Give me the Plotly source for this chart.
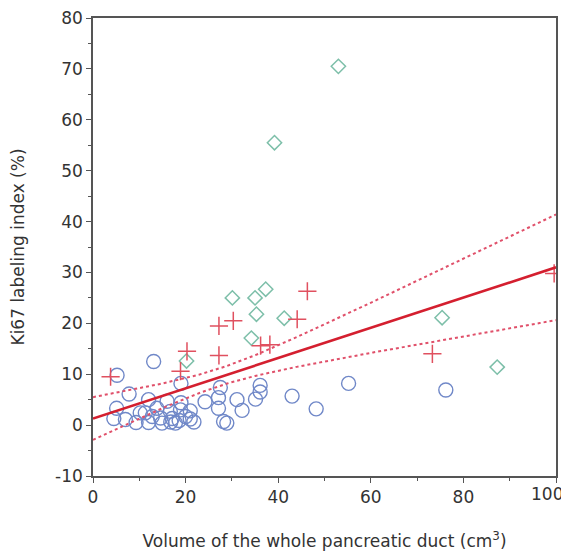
import numpy as np
import plotly.graph_objects as go

# Circles (blue)
circle_x = [5.2, 13.1, 19.0, 7.8, 5.1, 4.5, 7.0, 9.3, 10.2, 11.3, 12.0, 12.8, 12.0, 13.8, 14.6,
            14.9, 16.0, 16.7, 17.1, 16.8, 17.8, 18.6, 18.9, 19.0, 20.0, 21.0, 21.0, 21.8, 24.2,
            27.5, 27.1, 27.1, 28.2, 28.9, 31.1, 32.2, 35.1, 36.1, 36.1, 43.0, 48.2, 55.2, 76.2]
circle_y = [9.8, 12.5, 8.2, 6.1, 3.3, 1.3, 1.1, 0.5, 2.4, 2.4, 5.0, 1.7, 0.5, 3.3, 1.4,
            0.4, 4.7, 2.7, 1.3, 0.6, 0.4, 0.9, 3.0, 4.4, 1.7, 2.8, 1.2, 0.6, 4.6,
            7.4, 5.4, 3.3, 0.7, 0.4, 5.0, 2.9, 5.1, 6.5, 7.8, 5.7, 3.2, 8.2, 6.9]

# Crosses (red)
cross_x = [3.8, 18.9, 20.3, 27.2, 27.2, 30.3, 36.2, 38.2, 44.1, 46.3, 73.3, 99.6]
cross_y = [9.5, 10.6, 14.5, 13.7, 19.5, 20.5, 15.6, 15.8, 20.8, 26.3, 14.0, 29.8]

# Diamonds (teal)
diamond_x = [53.0, 39.2, 37.3, 30.1, 35.0, 35.3, 41.3, 34.2, 20.2, 75.4, 87.3]
diamond_y = [70.5, 55.5, 26.7, 25.0, 25.0, 21.8, 21.0, 17.1, 12.6, 21.1, 11.4]

# Tick labels (last x label drawn as annotation so it stays inside the page)
x_ticks = [0, 20, 40, 60, 80, 100]
x_ticktext = ["0", "20", "40", "60", "80", ""]
x_last_label = "100"
y_ticks = [-10, 0, 10, 20, 30, 40, 50, 60, 70, 80]
y_ticktext = ["-10", "0", "10", "20", "30", "40", "50", "60", "70", "80"]

# Regression line and confidence band parameters
fit_intercept = 1.3
fit_slope = 0.297
ci_base = 2.95
ci_curv = 0.0198
ci_center = 27.2

xs = np.linspace(0, 100, 201)
fit = fit_intercept + fit_slope * xs
hw = np.sqrt(ci_base + ci_curv * (xs - ci_center) ** 2)

TXT = "#333333"
FONT = "DejaVu Sans"

fig = go.Figure()
fig.add_trace(go.Scatter(x=circle_x, y=circle_y, mode="markers",
                         marker=dict(symbol="circle-open", size=14, color="#7088c8",
                                     line=dict(width=1.4, color="#7088c8"))))
fig.add_trace(go.Scatter(x=diamond_x, y=diamond_y, mode="markers",
                         marker=dict(symbol="diamond-open", size=11, color="#7dbfa9",
                                     line=dict(width=1.5, color="#7dbfa9"))))
fig.add_trace(go.Scatter(x=cross_x, y=cross_y, mode="markers",
                         marker=dict(symbol="cross-thin-open", size=13, color="#e0505f",
                                     line=dict(width=1.5, color="#e0505f"))))
fig.add_trace(go.Scatter(x=xs, y=fit + hw, mode="lines",
                         line=dict(color="#e0506a", width=2, dash="dot")))
fig.add_trace(go.Scatter(x=xs, y=fit - hw, mode="lines",
                         line=dict(color="#e0506a", width=2, dash="dot")))
fig.add_trace(go.Scatter(x=xs, y=fit, mode="lines",
                         line=dict(color="#d41f2f", width=2.6)))

axis_common = dict(
    showgrid=False, zeroline=False, showline=True, linecolor="#555555", linewidth=1.5,
    mirror=True, ticks="outside", ticklen=5, tickwidth=1.2, tickcolor="#555555",
    tickfont=dict(family=FONT, size=17, color=TXT),
    automargin=False, ticklabeloverflow="allow",
)

fig.add_annotation(x=100, y=0, xref="x", yref="paper", text=x_last_label,
                   showarrow=False, xanchor="right", yanchor="top", xshift=9, yshift=-6,
                   font=dict(family=FONT, size=17, color=TXT))

fig.update_layout(
    width=561, height=546,
    margin=dict(l=85, r=13, t=10, b=78),
    plot_bgcolor="white", paper_bgcolor="white",
    showlegend=False,
    xaxis=dict(range=[0, 100], tickvals=x_ticks, ticktext=x_ticktext,
               minor=dict(dtick=10, ticks="outside", ticklen=3, tickcolor="#555555"),
               title=dict(text="Volume of the whole pancreatic duct (cm<sup>3</sup>)",
                          font=dict(family=FONT, size=17, color=TXT),
                          standoff=29),
               **axis_common),
    yaxis=dict(range=[-10, 80], tickvals=y_ticks, ticktext=y_ticktext,
               minor=dict(dtick=5, ticks="outside", ticklen=3, tickcolor="#555555"),
               title=dict(text="Ki67 labeling index (%)",
                          font=dict(family=FONT, size=17, color=TXT),
                          standoff=28),
               **axis_common),
)

fig.write_html("out.html")
